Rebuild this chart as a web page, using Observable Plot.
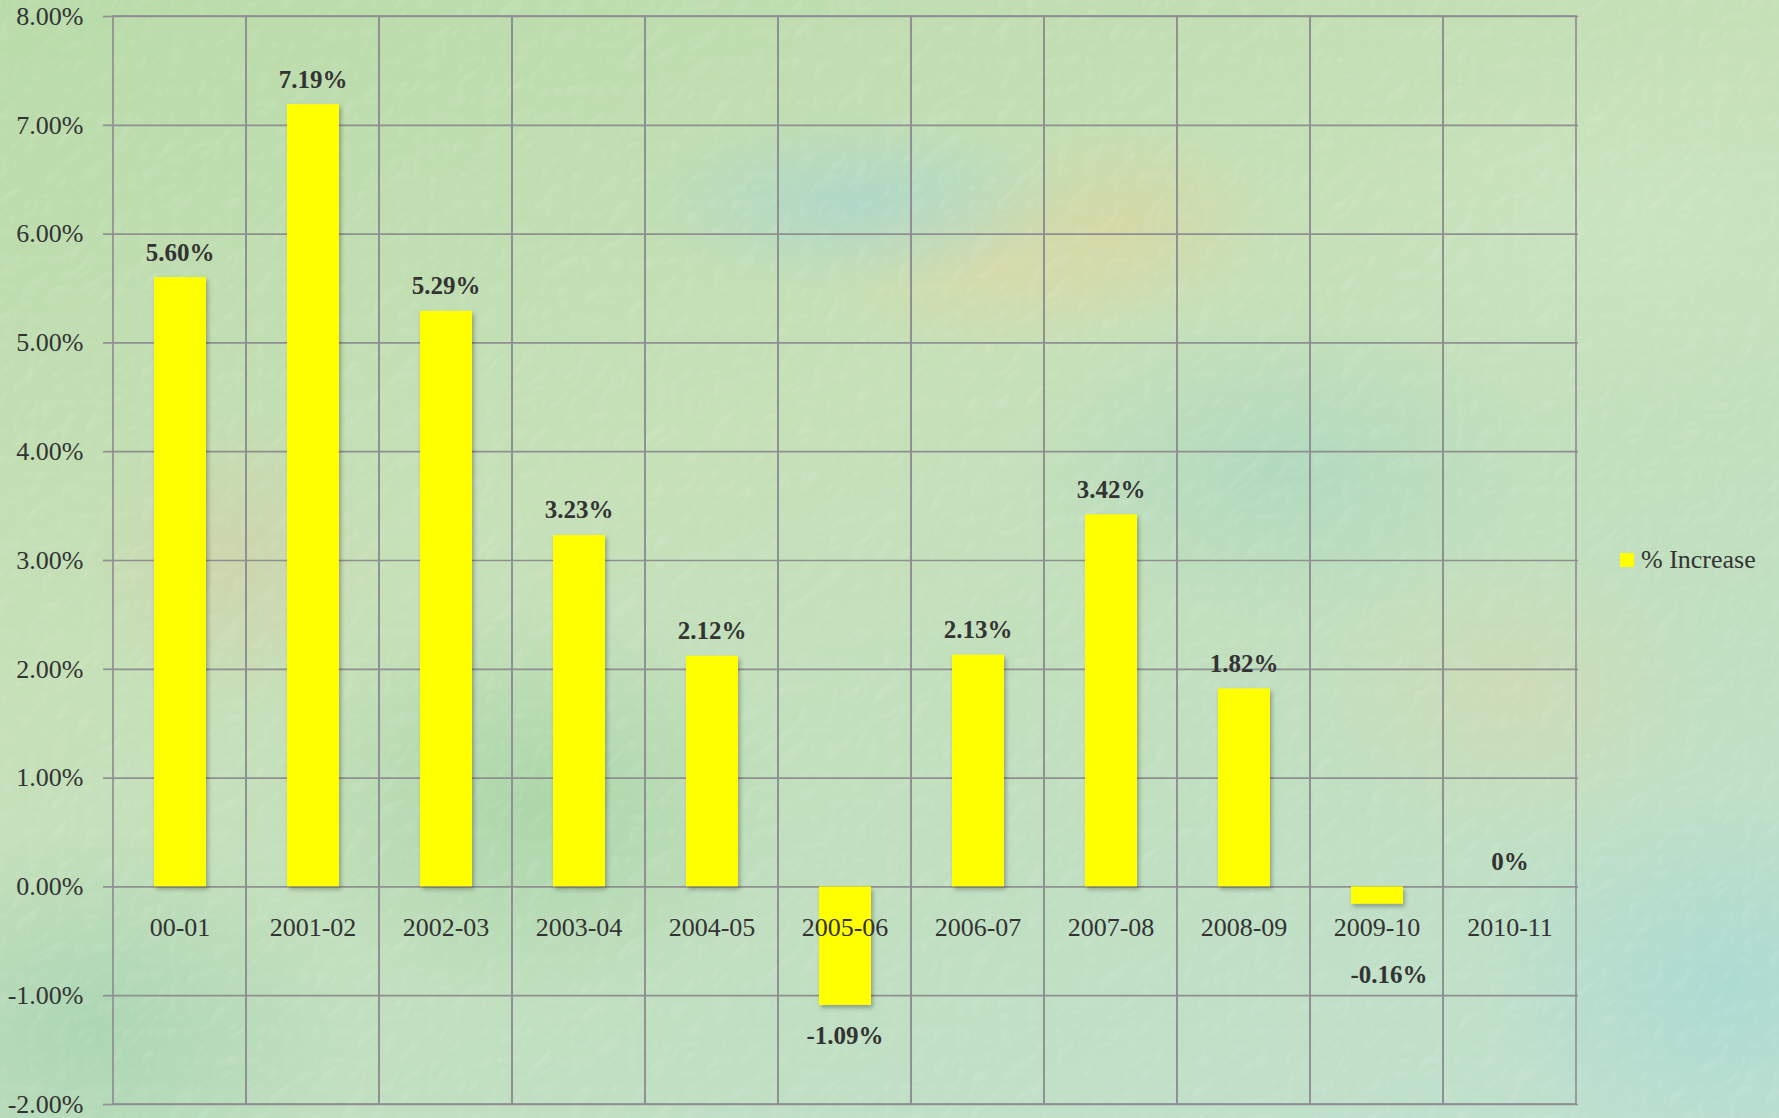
<!DOCTYPE html>
<html>
<head>
<meta charset="utf-8">
<script src="https://cdn.jsdelivr.net/npm/d3@7"></script>
<script src="https://cdn.jsdelivr.net/npm/@observablehq/plot@0.6"></script>
<style>
  html, body { margin: 0; padding: 0; }
  body {
    width: 1779px; height: 1118px; overflow: hidden; position: relative;
    font-family: "Liberation Serif", "Times New Roman", serif;
    background-color: #c3deb6;
    background-image:
      radial-gradient(ellipse 220px 90px at 48% 18%, rgba(160,210,215,0.55), rgba(160,210,215,0) 100%),
      radial-gradient(ellipse 180px 90px at 56% 24%, rgba(225,215,160,0.55), rgba(225,215,160,0) 100%),
      radial-gradient(ellipse 160px 110px at 63% 20%, rgba(225,210,150,0.5), rgba(225,210,150,0) 100%),
      radial-gradient(ellipse 150px 160px at 13% 50%, rgba(215,200,160,0.45), rgba(215,200,160,0) 100%),
      radial-gradient(ellipse 260px 200px at 30% 72%, rgba(150,205,150,0.5), rgba(150,205,150,0) 100%),
      radial-gradient(ellipse 260px 160px at 72% 42%, rgba(155,210,195,0.45), rgba(155,210,195,0) 100%),
      radial-gradient(ellipse 200px 150px at 85% 62%, rgba(220,215,170,0.45), rgba(220,215,170,0) 100%),
      radial-gradient(ellipse 240px 200px at 97% 88%, rgba(160,215,215,0.6), rgba(160,215,215,0) 100%),
      radial-gradient(ellipse 260px 200px at 5% 92%, rgba(150,205,170,0.5), rgba(150,205,170,0) 100%),
      radial-gradient(ellipse 300px 200px at 92% 20%, rgba(205,230,195,0.6), rgba(205,230,195,0) 100%),
      linear-gradient(160deg, #b9dba9 0%, #c6e0b8 40%, #c0dfc0 70%, #bfe0cf 100%);
  }
  #texture { position: absolute; left: 0; top: 0; pointer-events: none; }
  #chart { position: absolute; left: 0; top: 0; }
  #legend {
    position: absolute; left: 1620px; top: 545px;
    display: flex; align-items: center;
    font-size: 26px; color: #333;
  }
  #legend .sw { width: 14px; height: 14px; background: #ffff00; margin-right: 7px; }
</style>
</head>
<body>
<svg id="texture" width="1779" height="1118">
  <filter id="tex" x="0" y="0" width="100%" height="100%">
    <feTurbulence type="turbulence" baseFrequency="0.035" numOctaves="2" seed="11" result="n"/>
    <feDiffuseLighting in="n" lighting-color="#ffffff" surfaceScale="2.5" result="l">
      <feDistantLight azimuth="225" elevation="50"/>
    </feDiffuseLighting>
    <feColorMatrix in="l" type="matrix"
      values="0 0 0 0 1  0 0 0 0 1  0 0 0 0 1  1.3 0 0 0 -1.0"/>
  </filter>
  <rect width="1779" height="1118" filter="url(#tex)" opacity="0.45"/>
</svg>
<div id="chart"></div>
<div id="legend"><div class="sw"></div><span id="legendText"></span></div>
<script>
const categories = ["00-01","2001-02","2002-03","2003-04","2004-05","2005-06","2006-07","2007-08","2008-09","2009-10","2010-11"];
const values = [5.60, 7.19, 5.29, 3.23, 2.12, -1.09, 2.13, 3.42, 1.82, -0.16, 0];
const valueLabels = ["5.60%","7.19%","5.29%","3.23%","2.12%","-1.09%","2.13%","3.42%","1.82%","-0.16%","0%"];
const yTicks = [-2, -1, 0, 1, 2, 3, 4, 5, 6, 7, 8];
const yTickLabels = ["-2.00%","-1.00%","0.00%","1.00%","2.00%","3.00%","4.00%","5.00%","6.00%","7.00%","8.00%"];
const seriesName = "% Increase";

document.getElementById("legendText").textContent = seriesName;

const idx = d3.range(categories.length);
const grid = "#8f8f92";
const textColor = "#333333";

const posIdx = idx.filter(i => values[i] >= 0);
const negIdx = idx.filter(i => values[i] < 0 && values[i] <= -0.5);
const smallNegIdx = idx.filter(i => values[i] < 0 && values[i] > -0.5);

const chart = Plot.plot({
  width: 1779,
  height: 1118,
  marginLeft: 110,
  marginRight: 201,
  marginTop: 16,
  marginBottom: 14,
  style: { background: "transparent", fontFamily: "Liberation Serif, Times New Roman, serif", fontSize: "26px", color: textColor, overflow: "visible" },
  x: { domain: categories, padding: 0, axis: null },
  y: { domain: [-2, 8], axis: null },
  marks: [
    Plot.ruleY(yTicks, { stroke: grid, strokeWidth: 1.7 }),
    Plot.cell(categories, { x: d => d, fill: "none", stroke: grid, strokeWidth: 1.7 }),
    Plot.axisY({
      ticks: yTicks,
      tickFormat: d => yTickLabels[yTicks.indexOf(d)],
      tickSize: 7,
      tickPadding: 20,
      stroke: grid,
      strokeWidth: 1.7,
      fill: textColor,
      fontSize: 26,
      label: null
    }),
    Plot.barY(idx, {
      x: i => categories[i],
      y: i => values[i],
      fill: "#ffff00",
      insetLeft: 41,
      insetRight: 40
    }),
    Plot.text(categories, {
      x: d => d,
      y: () => 0,
      dy: 41,
      text: d => d,
      fill: textColor,
      fontSize: 26
    }),
    Plot.text(posIdx, {
      x: i => categories[i],
      y: i => values[i],
      text: i => valueLabels[i],
      dy: -25,
      fill: textColor,
      fontSize: 25,
      fontWeight: "bold"
    }),
    Plot.text(negIdx, {
      x: i => categories[i],
      y: i => values[i],
      text: i => valueLabels[i],
      dy: 31,
      fill: textColor,
      fontSize: 25,
      fontWeight: "bold"
    }),
    Plot.text(smallNegIdx, {
      x: i => categories[i],
      y: i => values[i],
      text: i => valueLabels[i],
      dy: 71,
      dx: 12,
      fill: textColor,
      fontSize: 25,
      fontWeight: "bold"
    })
  ]
});

d3.select(chart).selectAll('g[aria-label="bar"] rect')
  .style("filter", "drop-shadow(2px 3px 2px rgba(0,0,0,0.28))");

document.getElementById("chart").appendChild(chart);
</script>
</body>
</html>
